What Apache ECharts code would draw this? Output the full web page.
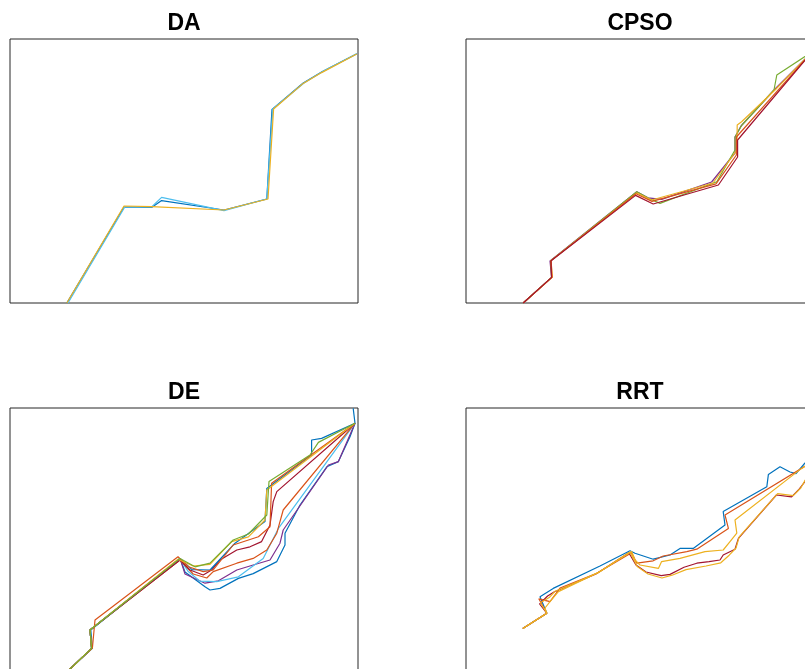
<!DOCTYPE html>
<html>
<head>
<meta charset="utf-8">
<script src="https://cdn.jsdelivr.net/npm/echarts@6/dist/echarts.min.js"></script>
<style>
  html, body { margin: 0; padding: 0; background: #fff; }
  #chart { width: 805px; height: 669px; }
</style>
</head>
<body>
<div id="chart"></div>
<script>
// Planned paths on a 87 x 66 map, one panel per planner.
const panelTitles = ['DA', 'CPSO', 'DE', 'RRT'];
const mapSize = { x: 87, y: 66 };

// MATLAB default line colours
const cBlue = '#0072BD', cOrange = '#D95319', cYellow = '#EDB120', cPurple = '#7E2F8E',
      cGreen = '#77AC30', cLightBlue = '#4DBEEE', cRed = '#A2142F';

// ---- DA ----
const daBlue = [[14.2,0],[28.5,24],[35.4,23.9],[37.9,25.6],[53.5,23.25],[64.2,26],[65.5,48.4],[73.3,55],[78,57.8],[86.7,62.3]];
const daLightBlue = [[14.5,0],[28.7,24],[35.4,24],[37.9,26.4],[53.5,23.1],[64.2,26],[65.7,48.5],[73.5,55],[78.2,57.9],[86.7,62.3]];
const daYellow = [[14.2,0],[28.5,24.25],[35.4,24.1],[53.5,23.25],[64.5,26],[65.9,48.5],[73.3,54.9],[77.9,57.6],[86.7,62.25]];

// ---- CPSO ----
const cpsoPurple = [[14.3,0],[21.4,6.4],[21,10.5],[42.7,27.8],[45.5,26.3],[48.9,25.9],[61.4,30.25],[67.25,37.5],[67.25,41.5],[68.75,44.25],[77,53.25],[86.5,62.75]];
const cpsoGreen = [[14.3,0],[21.4,6.4],[21.2,10.6],[42.7,27.8],[46,26],[48.5,24.9],[62.7,30.3],[67.25,38.25],[67.25,41.5],[69,44.5],[77,53.25],[77.7,57],[86.5,62.75]];
const cpsoYellow = [[14.3,0],[21.6,6.5],[21.2,10.6],[42.7,27.5],[46.4,25.75],[61.75,30],[67.75,38.25],[67.8,44.5],[68.9,45.3],[77.25,53.25],[86.5,62.75]];
const cpsoOrange = [[14.3,0],[21.5,6.4],[21.3,10.6],[42.5,27.3],[46.5,25.4],[62.5,29.8],[67.6,37],[67.6,41.5],[86.5,62.75]];
const cpsoRed = [[14.3,0],[21.4,6.4],[21.2,10.5],[42.4,26.9],[46.8,24.75],[63.1,29.5],[67.9,36.5],[67.9,40.75],[86.5,62.75]];

// ---- DE ----
const deGreen = [[14.2,0],[20.4,5.9],[20,10.5],[42.5,28.4],[46.25,26.3],[50,27.2],[55.8,33],[59.6,34.5],[64.2,39.25],[64.75,47.6],[75,54.25],[77.1,57.4],[86.25,62.2]];
const deYellow = [[14.2,0],[20.4,5.9],[20,10.5],[42,28.2],[45.8,26.5],[50,26.9],[55.4,32.6],[59.6,33.8],[63.75,38],[64.2,45.5],[86.25,62.2]];
const deBlueUpper = [[14.2,0],[20.4,5.9],[20,10.5],[42.5,28.4],[45.5,25.6],[50,25.5],[56.25,32.2],[63.75,37.6],[64.2,45.9],[75.4,54.25],[75.4,58],[77.9,58.4],[86.25,62.2],[85.8,65.9]];
const deOrangeUpper = [[14.2,0],[20.6,6],[21.25,13],[42,28.8],[44.6,26.3],[48.3,25.1],[50.8,25.5],[55.8,31.75],[62.1,33.8],[65,36.3],[65.4,47.2],[86.25,62.2]];
const deRed = [[14.2,0],[20.4,5.9],[20,10.5],[42.5,28],[45,25.5],[48.3,24.25],[50.4,25.5],[52.5,28],[56.7,30.5],[60,31.3],[62.9,32.6],[65,36.75],[65.8,42.6],[66.7,45.1],[86.25,62.2]];
const deOrangeLower = [[14.2,0],[20.4,5.9],[20,10.5],[42.5,28],[45.8,24.5],[49.2,23.5],[50.8,25.1],[56.7,27.2],[60.8,28.4],[64.2,30.5],[66.7,34.7],[68.3,40.5],[86.25,62.2]];
const deLightBlue = [[14.2,0],[20.4,5.9],[20,10.5],[42.5,28.2],[44.5,25.2],[47.5,22.7],[51.7,22.6],[57.1,23.8],[63.3,28.4],[67.1,35.9],[86.25,62.2]];
const dePurple = [[14.2,0],[20.4,5.9],[20,10.5],[42.5,28.4],[43.75,24.5],[48.75,22.2],[52.1,22.8],[56.7,25.5],[60.8,26.75],[65,28],[67.5,32.2],[68.3,35.5],[79.6,51.75],[82.1,52.6],[86.25,62.2]];
const deBlueLower = [[14.2,0],[20.6,5.9],[20.2,10.5],[42.5,28.4],[43.75,25],[48.75,21.3],[50,20.5],[52.5,20.9],[57.1,23.4],[60.8,24.6],[66.7,27.6],[68.75,31.75],[68.75,34.7],[72.5,41.75],[79.2,51.3],[82.1,52.6],[85,58.8],[86.25,62.2]];

// ---- RRT ----
const rrtBlue = [[14.2,10.9],[20.2,14.7],[18.5,18.8],[21.8,20.9],[33.5,26.5],[41,30.3],[42.25,29.7],[46.8,28.2],[51,29.25],[53.5,30.9],[56.8,30.9],[64.75,36.75],[64.3,40.1],[75.2,46.3],[75.6,49.4],[78.5,51.3],[81,50],[82.5,49.6],[84.75,52.25],[86.5,52.5]];
const rrtOrange = [[14.2,10.9],[20.2,14.7],[18.2,18.3],[21,17.6],[23.5,21],[32.7,24.7],[41.4,29.8],[42.7,27.2],[46.8,27.8],[49.3,29],[55.2,30.1],[57.7,30.7],[65.6,35.9],[64.75,39.25],[86.5,52.5]];
const rrtYellow = [[14.2,10.9],[20.2,14.7],[19.75,16],[21,17.6],[23.1,20.1],[33.5,25.1],[41.4,30.1],[42.25,28],[43.5,26.75],[48.1,25.9],[48.9,27.6],[53.5,28.4],[59.75,30.1],[64.3,30.5],[66,32.6],[67.7,34.7],[67.25,38],[83.9,50.9],[86.5,52.5]];
const rrtRed = [[14.2,10.9],[20.2,14.7],[18.4,17],[20.4,19],[22,20],[32.5,24.5],[40.7,29.8],[42.5,26.75],[45,25],[48.8,24.1],[51,24.4],[54.5,26.2],[57.7,27.2],[60.75,27.6],[63.5,28],[64.3,29.25],[67.25,30.7],[68.1,33.4],[77.6,44.25],[81.4,43.8],[83.1,45.5],[84.75,47.6],[86.5,52.5]];
const rrtYellowLower = [[14.2,10.9],[20.2,14.7],[18.6,17.3],[20.8,18.6],[22.3,20.2],[33,24.8],[41,30],[42.8,26.4],[45.5,24.5],[49,23.5],[51.5,24.2],[55,25.6],[60,26.5],[63.7,27.3],[65.8,29.2],[67.5,31],[68.3,33.8],[77.9,44.6],[81.8,44.1],[83.7,46],[85,48.3],[86.5,52.5]];

const panelPaths = [
  [[daBlue, cBlue], [daLightBlue, cLightBlue], [daYellow, cYellow]],
  [[cpsoPurple, cPurple], [cpsoGreen, cGreen], [cpsoYellow, cYellow], [cpsoOrange, cOrange], [cpsoRed, cRed]],
  [[deBlueLower, cBlue], [dePurple, cPurple], [deLightBlue, cLightBlue], [deOrangeLower, cOrange], [deRed, cRed],
   [deBlueUpper, cBlue], [deOrangeUpper, cOrange], [deYellow, cYellow], [deGreen, cGreen]],
  [[rrtBlue, cBlue], [rrtOrange, cOrange], [rrtRed, cRed], [rrtYellowLower, cYellow], [rrtYellow, cYellow]]
];

// panel layout (pixels); the right-hand panels run past the page edge
const panelBoxes = [
  { left: 10, top: 39 }, { left: 466, top: 39 },
  { left: 10, top: 408 }, { left: 466, top: 408 }
];
const boxW = 348, boxH = 264;

const chart = echarts.init(document.getElementById('chart'), null, { renderer: 'canvas' });

const grid = [], xAxis = [], yAxis = [], series = [], graphic = [];
panelBoxes.forEach((b, i) => {
  grid.push({ left: b.left, top: b.top, width: boxW, height: boxH, show: true,
              outerBoundsMode: 'none', containLabel: false,
              borderColor: '#262626', borderWidth: 1, backgroundColor: '#fff' });
  const hidden = { show: false };
  xAxis.push({ type: 'value', gridIndex: i, min: 0, max: mapSize.x,
               axisLine: hidden, axisTick: hidden, axisLabel: hidden, splitLine: hidden });
  yAxis.push({ type: 'value', gridIndex: i, min: 0, max: mapSize.y,
               axisLine: hidden, axisTick: hidden, axisLabel: hidden, splitLine: hidden });
  panelPaths[i].forEach(([pts, color]) => {
    series.push({ type: 'line', xAxisIndex: i, yAxisIndex: i, data: pts,
                  showSymbol: false, symbol: 'none', silent: true, clip: true,
                  lineStyle: { color: color, width: 1.2 } });
  });
  graphic.push({ type: 'text', x: b.left + boxW / 2, y: b.top - 15,
                 style: { text: panelTitles[i], fill: '#000', align: 'center', verticalAlign: 'middle',
                          font: 'bold 23px "Liberation Sans", Arial, sans-serif' } });
});

chart.setOption({ animation: false, grid, xAxis, yAxis, series, graphic });
</script>
</body>
</html>
